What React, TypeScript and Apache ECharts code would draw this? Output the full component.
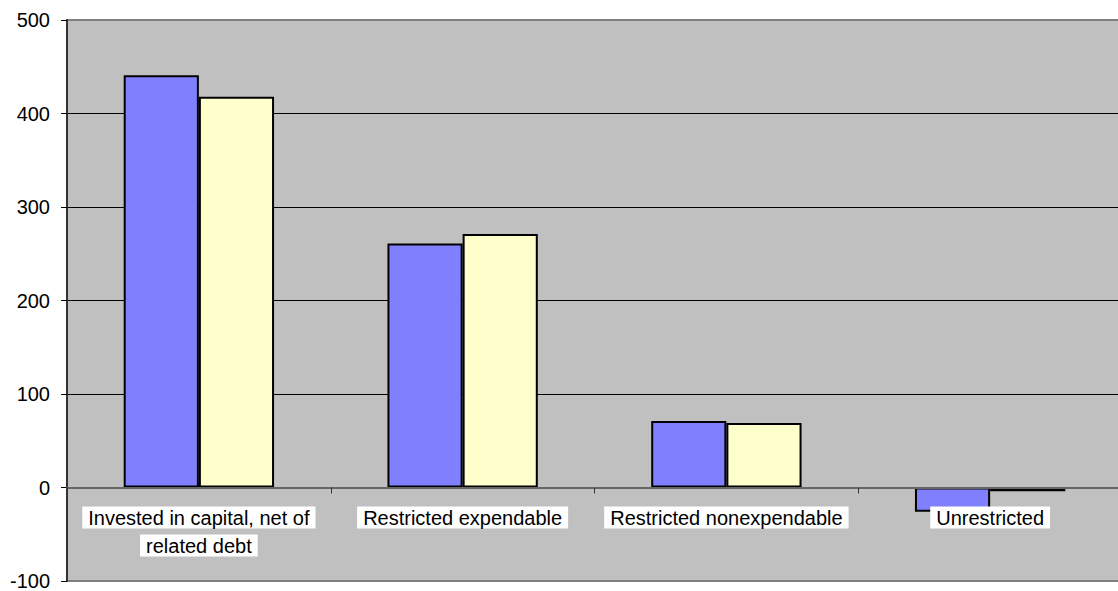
import React, { useEffect, useRef } from "react";
import * as echarts from "echarts";

const categories = [
  "Invested in capital, net of\nrelated debt",
  "Restricted expendable",
  "Restricted nonexpendable",
  "Unrestricted",
];
const seriesA = [441, 261, 71, -26];
const seriesB = [418, 271, 69, -4];

const FONT = '"Liberation Sans", Arial, sans-serif';

export default function App() {
  const ref = useRef<HTMLDivElement>(null);
  useEffect(() => {
    if (!ref.current) return;
    const chart = echarts.init(ref.current, null, { renderer: "svg" });
    chart.setOption({
      animation: false,
      grid: {
        left: 67,
        top: 20,
        right: -4,
        bottom: 10,
        containLabel: false,
        outerBoundsMode: "none",
        show: true,
        backgroundColor: "#C0C0C0",
        borderColor: "#808080",
        borderWidth: 2,
      },
      xAxis: {
        type: "category",
        data: categories,
        position: "bottom",
        offset: -93.5,
        z: 5,
        axisLine: { onZero: false, lineStyle: { color: "#666666", width: 2 } },
        axisTick: { show: true, length: 6, lineStyle: { color: "#333333", width: 1 } },
        axisLabel: {
          margin: 16,
          interval: 0,
          formatter: (v: string) => v.split("\n").map((s) => `{a|${s}}`).join("\n"),
          rich: {
            a: {
              fontFamily: FONT,
              fontSize: 20,
              color: "#000",
              backgroundColor: "#FFFFFF",
              height: 22,
              lineHeight: 28,
              padding: [0, 6],
            },
          },
        },
        splitLine: { show: false },
      },
      yAxis: {
        type: "value",
        min: -100,
        max: 500,
        interval: 100,
        axisLine: { show: true, lineStyle: { color: "#333333", width: 2 } },
        axisTick: { show: true, length: 6, lineStyle: { color: "#000", width: 1 } },
        axisLabel: { margin: 17, fontFamily: FONT, fontSize: 20, color: "#000" },
        splitLine: { show: true, showMinLine: false, showMaxLine: false, lineStyle: { color: "#000", width: 1 } },
      },
      series: [
        {
          type: "bar",
          data: seriesA,
          barGap: "0%",
          barCategoryGap: "43%",
          itemStyle: { color: "#8080FF", borderColor: "#000", borderWidth: 2 },
        },
        {
          type: "bar",
          data: seriesB,
          barGap: "0%",
          barCategoryGap: "43%",
          itemStyle: { color: "#FFFFCC", borderColor: "#000", borderWidth: 2 },
        },
      ],
    });
    return () => chart.dispose();
  }, []);
  return (
    <div
      ref={ref}
      style={{ position: "fixed", left: 0, top: 0, width: 1118, height: 591, background: "#fff" }}
    />
  );
}
